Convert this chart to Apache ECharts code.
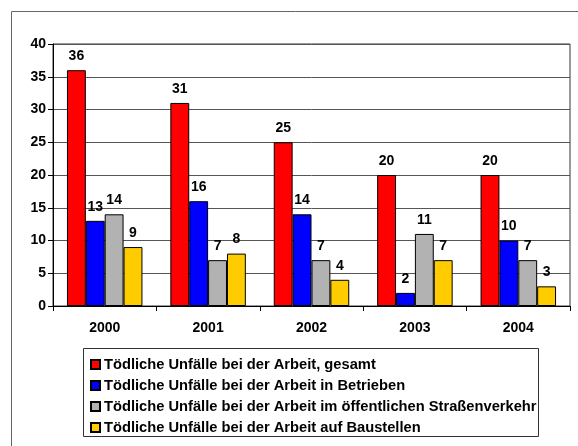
<!DOCTYPE html>
<html>
<head>
<meta charset="utf-8">
<script src="https://cdn.jsdelivr.net/npm/echarts@6/dist/echarts.min.js"></script>
<style>
  html, body { margin: 0; padding: 0; background: #fff; }
</style>
</head>
<body>
<div id="myChart" style="width: 578px;height:446px;"></div>
<script>
  // Jahre und Werte
  var years = ['2000', '2001', '2002', '2003', '2004'];
  var seriesNames = [
    'Tödliche Unfälle bei der Arbeit, gesamt',
    'Tödliche Unfälle bei der Arbeit in Betrieben',
    'Tödliche Unfälle bei der Arbeit im öffentlichen Straßenverkehr',
    'Tödliche Unfälle bei der Arbeit auf Baustellen'
  ];
  var gesamt = [36, 31, 25, 20, 20];
  var betriebe = [13, 16, 14, 2, 10];
  var strasse = [14, 7, 7, 11, 7];
  var baustellen = [9, 8, 4, 7, 3];
  var colors = ['#FF0000', '#0000FF', '#B2B2B2', '#FFCC00'];

  var font = 'Liberation Sans, Arial, sans-serif';
  var myChart = echarts.init(document.getElementById('myChart'));

  function makeSeries(name, data, color) {
    return {
      name: name,
      type: 'bar',
      data: data,
      barGap: '0%',
      barCategoryGap: '27%',
      itemStyle: { color: color, borderColor: '#000', borderWidth: 1 },
      label: {
        show: true,
        position: 'top',
        distance: 7,
        color: '#000',
        fontWeight: 'bold',
        fontSize: 14,
        fontFamily: font
      }
    };
  }

  var option = {
    animation: false,
    color: colors,
    grid: { left: 53, right: 8, top: 44, bottom: 140, show: true, borderColor: '#333', borderWidth: 1 },
    xAxis: {
      type: 'category',
      data: years,
      axisLine: { lineStyle: { color: '#000' } },
      axisTick: { show: true, length: 5, lineStyle: { color: '#000' } },
      axisLabel: { color: '#000', fontWeight: 'bold', fontSize: 14, fontFamily: font, margin: 15 }
    },
    yAxis: {
      type: 'value',
      min: 0,
      max: 40,
      interval: 5,
      axisLine: { show: true, lineStyle: { color: '#000' } },
      axisTick: { show: true, length: 5, lineStyle: { color: '#000' } },
      axisLabel: { color: '#000', fontWeight: 'bold', fontSize: 14, fontFamily: font, margin: 7 },
      splitLine: { lineStyle: { color: '#555', width: 1 } }
    },
    legend: {
      orient: 'vertical',
      left: 85,
      top: 352,
      itemWidth: 9,
      itemHeight: 9,
      itemGap: 6,
      icon: 'rect',
      textStyle: { color: '#000', fontWeight: 'bold', fontSize: 14.7, fontFamily: font, padding: [0, 0, 0, -1] },
      data: seriesNames
    },
    graphic: [
      {
        type: 'rect',
        shape: { x: 11.5, y: 11.5, width: 600, height: 500 },
        style: { fill: 'none', stroke: '#666', lineWidth: 1 },
        silent: true
      },
      {
        type: 'rect',
        shape: { x: 83.5, y: 348.5, width: 455, height: 88 },
        style: { fill: 'none', stroke: '#333', lineWidth: 1 },
        silent: true
      }
    ],
    series: [
      makeSeries(seriesNames[0], gesamt, colors[0]),
      makeSeries(seriesNames[1], betriebe, colors[1]),
      makeSeries(seriesNames[2], strasse, colors[2]),
      makeSeries(seriesNames[3], baustellen, colors[3])
    ]
  };
  myChart.setOption(option);
</script>
</body>
</html>
